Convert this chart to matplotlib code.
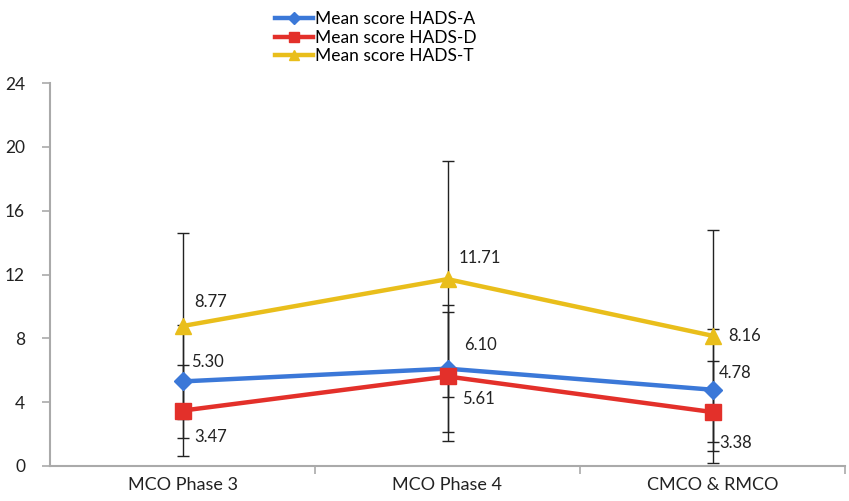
import matplotlib
matplotlib.use("Agg")
import matplotlib.pyplot as plt
import numpy as np

plt.rcParams['font.family'] = ['Lato', 'DejaVu Sans']

categories = ["MCO Phase 3", "MCO Phase 4", "CMCO & RMCO"]
hads_a = [5.30, 6.10, 4.78]
hads_d = [3.47, 5.61, 3.38]
hads_t = [8.77, 11.71, 8.16]
sd_a = [3.55, 3.97, 3.82]
sd_d = [2.84, 4.05, 3.20]
sd_t = [5.85, 7.40, 6.65]
y_ticks = [0, 4, 8, 12, 16, 20, 24]

series = [
    ("Mean score HADS-A", hads_a, sd_a, "#3B78D8", "D", 9),
    ("Mean score HADS-D", hads_d, sd_d, "#E3302A", "s", 11),
    ("Mean score HADS-T", hads_t, sd_t, "#E9BE1B", "^", 11),
]
# label offsets in points (dx, dy) per series per category
label_offsets = [
    [(18, 14), (24, 17), (16, 12)],
    [(20, -19), (22, -16), (17, -22)],
    [(20, 17), (23, 15), (23, 0)],
]

fig = plt.figure(figsize=(8.49, 5.01), dpi=100)
ax = fig.add_axes([50/849, 1-466/501, 795/849, (466-83)/501])
x = np.arange(len(categories))

for name, vals, sd, col, mk, ms in series:
    ax.errorbar(x, vals, yerr=sd, fmt='none', ecolor='#222222', elinewidth=1.0,
                capsize=4, capthick=1.0, zorder=2)

handles = []
for (name, vals, sd, col, mk, ms) in series:
    h, = ax.plot(x, vals, color=col, lw=3.2, marker=mk, ms=ms, mec=col, mfc=col,
                 label=name, zorder=3)
    handles.append(h)

for si, (name, vals, sd, col, mk, ms) in enumerate(series):
    for ci, v in enumerate(vals):
        dx, dy = label_offsets[si][ci]
        ax.annotate(f"{v:.2f}", (x[ci], v), xytext=(dx, dy), textcoords='offset points',
                    ha='center', va='center', fontsize=12, color='#222222', zorder=5)

ax.set_xlim(-0.5, 2.5)
ax.set_ylim(0, 24)
ax.set_yticks(y_ticks)
ax.set_yticklabels([str(t) for t in y_ticks], fontsize=12.5, color='#222222')
ax.set_xticks(x)
ax.set_xticklabels(categories, fontsize=13, color='#222222')
ax.tick_params(axis='x', length=0, pad=8)
ax.set_xticks([0.5, 1.5, 2.5], minor=True)
ax.tick_params(axis='x', which='minor', length=6, color='#aaaaaa', width=1.2)
ax.tick_params(axis='y', length=6, color='#aaaaaa', width=1.2, pad=12)
for s in ['top', 'right']:
    ax.spines[s].set_visible(False)
for s in ['left', 'bottom']:
    ax.spines[s].set_color('#aaaaaa')
    ax.spines[s].set_linewidth(1.5)

leg = fig.legend(handles=handles, loc='upper left', bbox_to_anchor=(264/849, 1-0/501),
                 frameon=False, fontsize=12.5, handlelength=2.2, handletextpad=0.1,
                 labelspacing=0.15, borderpad=0.15, markerscale=0.65)

fig.savefig("out.png", dpi=100)
